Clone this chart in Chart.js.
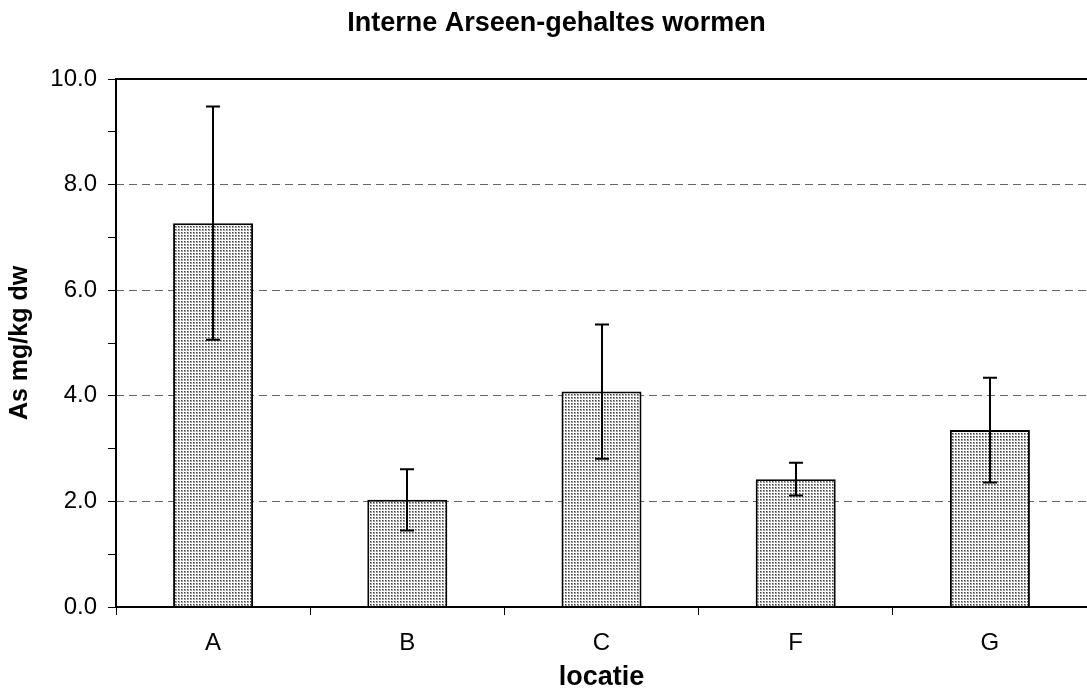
<!DOCTYPE html>
<html>
<head>
<meta charset="utf-8">
<title>Interne Arseen-gehaltes wormen</title>
<script src="https://cdn.jsdelivr.net/npm/chart.js@4.4.1/dist/chart.umd.min.js"></script>
<style>
  html, body { margin: 0; padding: 0; background: #ffffff; }
  canvas { display: block; }
</style>
</head>
<body>
<canvas id="grafiek" width="1087" height="695"></canvas>
<script>
// Gemiddeld arseengehalte per locatie (mg/kg droge stof) en standaardafwijking
const locaties = ['A', 'B', 'C', 'F', 'G'];
const gemiddelde = [7.27, 2.03, 4.08, 2.42, 3.35];
const standaardafwijking = [2.21, 0.58, 1.27, 0.31, 0.99];

const yMin = 0;
const yMax = 10;
const yStap = 1;          // kleine streepjes per 1.0, labels per 2.0

const lettertype = '"Liberation Sans", Arial, Helvetica, sans-serif';

// Fijn stippelpatroon voor de staven
function maakStippelPatroon() {
  const tegel = document.createElement('canvas');
  tegel.width = 3;
  tegel.height = 3;
  const c = tegel.getContext('2d');
  c.fillStyle = '#ffffff';
  c.fillRect(0, 0, 3, 3);
  c.fillStyle = '#9c9c9c';
  c.fillRect(1, 1, 2, 2);
  c.fillStyle = '#404040';
  c.fillRect(1, 1, 1, 1);
  return c.createPattern(tegel, 'repeat');
}

// Assen, bovenrand en foutbalken
const assenEnFoutbalken = {
  id: 'assenEnFoutbalken',
  afterDatasetsDraw(chart) {
    const ctx = chart.ctx;
    const y = chart.scales.y;
    const meta = chart.getDatasetMeta(0);
    ctx.save();
    ctx.strokeStyle = '#000000';
    ctx.lineWidth = 2;
    meta.data.forEach((staaf, i) => {
      const m = gemiddelde[i];
      const s = standaardafwijking[i];
      const x = Math.round(staaf.x);
      const yBoven = y.getPixelForValue(m + s);
      const yOnder = y.getPixelForValue(m - s);
      const half = 7;
      ctx.beginPath();
      ctx.moveTo(x, yBoven);
      ctx.lineTo(x, yOnder);
      ctx.moveTo(x - half, yBoven);
      ctx.lineTo(x + half, yBoven);
      ctx.moveTo(x - half, yOnder);
      ctx.lineTo(x + half, yOnder);
      ctx.stroke();
    });
    ctx.restore();
  },
  afterDraw(chart) {
    const ctx = chart.ctx;
    const { left, right, top, bottom } = chart.chartArea;
    ctx.save();
    ctx.strokeStyle = '#000000';
    ctx.lineWidth = 2;
    ctx.setLineDash([]);
    ctx.beginPath();
    ctx.moveTo(left, top);
    ctx.lineTo(right, top);
    ctx.moveTo(left, top - 1);
    ctx.lineTo(left, bottom + 1);
    ctx.moveTo(left - 1, bottom);
    ctx.lineTo(right, bottom);
    ctx.stroke();
    ctx.restore();
  }
};

new Chart(document.getElementById('grafiek'), {
  type: 'bar',
  data: {
    labels: locaties,
    datasets: [{
      label: 'As mg/kg dw',
      data: gemiddelde,
      backgroundColor: maakStippelPatroon(),
      borderColor: '#000000',
      borderWidth: 2,
      borderSkipped: 'start',
      categoryPercentage: 1.0,
      barPercentage: 0.412
    }]
  },
  options: {
    responsive: false,
    animation: false,
    layout: { padding: { left: 26, right: 0, top: 0, bottom: 0 } },
    plugins: {
      legend: { display: false },
      tooltip: { enabled: false },
      title: {
        display: true,
        text: 'Interne Arseen-gehaltes wormen',
        color: '#000000',
        font: { family: lettertype, size: 27, weight: 'bold' },
        padding: { top: 7, bottom: 39.6 }
      }
    },
    scales: {
      x: {
        offset: true,
        grid: {
          offset: true,
          drawOnChartArea: false,
          drawTicks: true,
          tickLength: 8,
          tickColor: '#000000',
          tickWidth: 1
        },
        border: { display: false },
        ticks: {
          color: '#000000',
          font: { family: lettertype, size: 24 },
          padding: 14,
          maxRotation: 0
        },
        title: {
          display: true,
          text: 'locatie',
          color: '#000000',
          font: { family: lettertype, size: 27, weight: 'bold' },
          padding: { top: 0, bottom: 1 }
        },
        afterFit(scale) { scale.height = 88; }
      },
      y: {
        min: yMin,
        max: yMax,
        grid: {
          color(ctx) {
            const v = ctx.tick ? ctx.tick.value : null;
            if (v === null || v === yMin || v === yMax || v % 2 !== 0) return 'rgba(0,0,0,0)';
            return '#666666';
          },
          lineWidth: 1,
          drawTicks: true,
          tickLength: 8,
          tickColor: '#000000',
          tickWidth: 1,
          tickBorderDash: []
        },
        border: { display: false, dash: [8, 5] },
        ticks: {
          stepSize: yStap,
          autoSkip: false,
          color: '#000000',
          font: { family: lettertype, size: 24 },
          padding: 11,
          callback(v) { return v % 2 === 0 ? v.toFixed(1) : ''; }
        },
        title: {
          display: true,
          text: 'As mg/kg dw',
          color: '#000000',
          font: { family: lettertype, size: 25, weight: 'bold' },
          padding: { top: -21, bottom: 0 }
        },
        afterFit(scale) { scale.width = 90; }
      }
    }
  },
  plugins: [assenEnFoutbalken]
});
</script>
</body>
</html>
